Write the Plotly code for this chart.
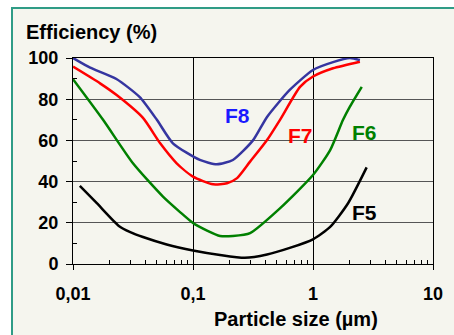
import math
import plotly.graph_objects as go

# Data
f8_x = [0.01, 0.0139, 0.023, 0.036, 0.05, 0.068, 0.114, 0.158, 0.215, 0.316, 0.414, 0.64, 1.0, 1.47, 2.03, 2.46]
f8_y = [100, 95.3, 89.8, 81, 70, 58.6, 50.5, 48.4, 50.5, 60, 71.4, 84.5, 94.2, 98, 100, 99]

f7_x = [0.01, 0.0168, 0.0231, 0.0383, 0.0531, 0.0731, 0.1, 0.147, 0.192, 0.233, 0.299, 0.414, 0.531, 0.78, 1.0, 1.47, 2.46]
f7_y = [95.8, 87.7, 82, 70.9, 58.7, 48.9, 42.4, 38.7, 39.2, 41.7, 49.7, 60.2, 70, 86, 91, 95, 98.2]

f6_x = [0.01, 0.0178, 0.0316, 0.0562, 0.078, 0.1, 0.131, 0.168, 0.215, 0.299, 0.53, 1.0, 1.39, 1.78, 2.03, 2.55]
f6_y = [89.7, 70, 48.9, 32.7, 25.2, 19.9, 16.2, 13.6, 13.6, 15, 27, 43.2, 55.3, 70, 76.4, 86]

f5_x = [0.0114, 0.0158, 0.0241, 0.03, 0.0383, 0.0604, 0.1, 0.168, 0.27, 0.414, 0.64, 1.0, 1.39, 1.96, 2.8]
f5_y = [37.9, 29.5, 18.5, 15.5, 13.1, 9.5, 6.6, 4.4, 3.0, 4.6, 7.8, 12, 18, 29.5, 46.9]

x_tickvals = [0.01, 0.1, 1, 10]
x_ticktext = ["0,01", "0,1", "1", "10"]
y_tickvals = [0, 20, 40, 60, 80, 100]

labels = [("F8", 0.237, 72.3, "#1a1aff"), ("F7", 0.78, 62.6, "#ff0000"),
          ("F6", 2.71, 63.6, "#008000"), ("F5", 2.71, 25.2, "#000000")]

FONT = "Liberation Sans, Arial, sans-serif"

fig = go.Figure()
for xs, ys, col in [(f5_x, f5_y, "#000000"), (f6_x, f6_y, "#008000"),
                    (f7_x, f7_y, "#ff0000"), (f8_x, f8_y, "#3535a0")]:
    fig.add_trace(go.Scatter(x=xs, y=ys, mode="lines",
                             line=dict(color=col, width=2.5, shape="spline", smoothing=0.6),
                             showlegend=False, hoverinfo="skip"))

for name, lx, ly, col in labels:
    fig.add_annotation(x=math.log10(lx), y=ly, xref="x", yref="y", text=f"<b>{name}</b>",
                       showarrow=False, font=dict(family=FONT, size=21, color=col))

minor_x = [v * m for v in [0.01, 0.1, 1] for m in range(2, 10)]

fig.update_xaxes(type="log", range=[-2, 1], tickmode="array", tickvals=x_tickvals,
                 ticktext=x_ticktext, ticks="outside", ticklen=5, tickcolor="black",
                 showline=True, linecolor="black", linewidth=1, mirror=True,
                 showgrid=True, gridcolor="black", gridwidth=1,
                 tickfont=dict(family=FONT, size=18, color="black", weight="bold"),
                 ticklabelstandoff=8,
                 minor=dict(tickmode="array", tickvals=minor_x, ticks="inside",
                            ticklen=4, tickcolor="black", showgrid=False),
                 zeroline=False)
fig.update_yaxes(range=[0, 100], tickmode="array", tickvals=y_tickvals,
                 ticks="outside", ticklen=6, tickcolor="black",
                 showline=True, linecolor="black", linewidth=1, mirror=True,
                 showgrid=True, gridcolor="#555555", gridwidth=1,
                 tickfont=dict(family=FONT, size=18, color="black", weight="bold"),
                 ticklabelstandoff=4,
                 minor=dict(tickmode="array", tickvals=[10, 30, 50, 70, 90], ticks="inside",
                            ticklen=4, tickcolor="black", showgrid=False),
                 zeroline=False)

# Outer frame
fig.add_shape(type="rect", xref="paper", yref="paper",
              x0=(12 - 73) / 360, x1=1.3, y0=-0.5, y1=(264 - 8) / 206,
              fillcolor="#f5f5ee", line=dict(color="#2f9c86", width=2), layer="below")

fig.add_annotation(xref="paper", yref="paper", x=(24 - 73) / 360, y=(264 - 32) / 206,
                   xanchor="left", yanchor="middle", showarrow=False,
                   text="<b>Efficiency (%)</b>", font=dict(family=FONT, size=20, color="black"))

fig.add_annotation(xref="paper", yref="paper", x=(296 - 73) / 360, y=(264 - 319) / 206,
                   xanchor="center", yanchor="middle", showarrow=False,
                   text="<b>Particle size (µm)</b>", font=dict(family=FONT, size=20, color="black"))

fig.update_layout(width=454, height=335,
                  margin=dict(l=73, r=21, t=58, b=71),
                  paper_bgcolor="white", plot_bgcolor="#f0f0f0",
                  font=dict(family=FONT))

fig.write_html("out.html")
